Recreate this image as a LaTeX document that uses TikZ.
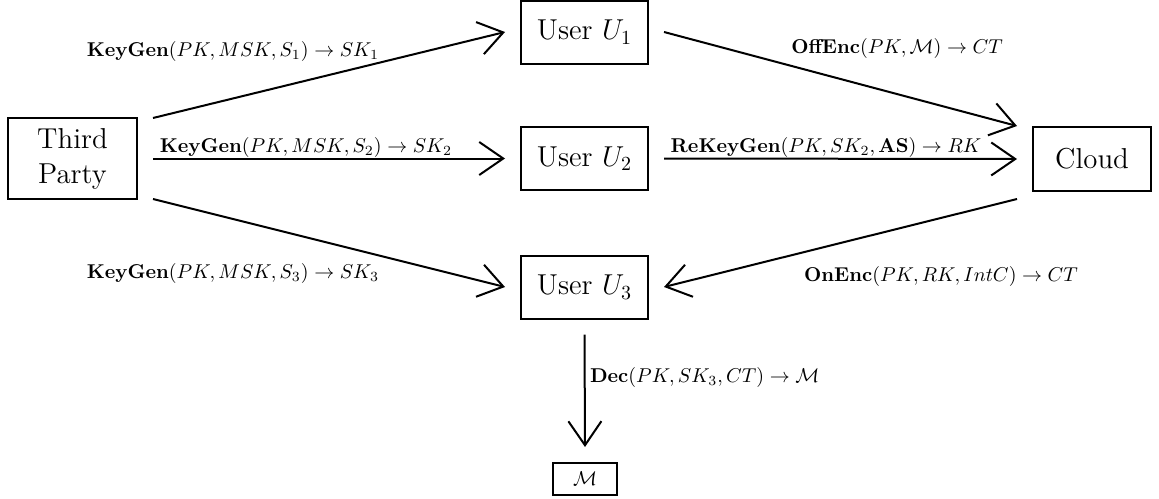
\documentclass[tikz,border=0pt]{standalone}
\usepackage{amsmath}
\usetikzlibrary{arrows.meta}
\begin{document}
\begin{tikzpicture}[x=0.5pt,y=-0.5pt,
  box/.style={draw, line width=1pt, inner sep=0pt, outer sep=0pt, font=\Large, align=center},
  ubox/.style={box, minimum width=63.5pt, minimum height=31.5pt},
  lbl/.style={inner sep=0pt, outer sep=0pt, font=\normalsize},
  arr/.style={line width=1pt, -{Straight Barb[length=12pt,width=16.5pt]}}]
\useasboundingbox (0,0) rectangle (1159,498);
% nodes
\node[box, minimum width=64.5pt, minimum height=40.5pt] (tp) at (72.5,158.5) {Third\\[-0.5pt]Party};
\node[ubox] (u1) at (584.5,32) {User $U_1$};
\node[ubox] (u2) at (584.5,158.5) {User $U_2$};
\node[ubox] (u3) at (584.5,287) {User $U_3$};
\node[box, minimum width=59pt, minimum height=32pt] (cloud) at (1092,159) {Cloud};
\node[box, font=\normalsize, minimum width=32pt, minimum height=16pt] (m) at (585,479) {$\mathcal{M}$};
% connectors
\draw[arr] ([xshift=8pt]tp.north east) -- ([xshift=-8pt]u1.west);
\draw[arr] ([xshift=8pt]tp.east) -- ([xshift=-8pt]u2.west);
\draw[arr] ([xshift=8pt]tp.south east) -- ([xshift=-8pt]u3.west);
\draw[arr] ([xshift=8pt]u1.east) -- ([xshift=-8pt,yshift=0.5pt]cloud.north west);
\draw[arr] ([xshift=8pt]u2.east) -- ([xshift=-8pt]cloud.west);
\draw[arr] ([xshift=-8pt,yshift=-4pt]cloud.south west) -- ([xshift=8pt]u3.east);
\draw[arr] ([yshift=-8pt]u3.south) -- ([yshift=8pt]m.north);
% labels
\node[lbl] (l1) at (233,51) {\textbf{KeyGen}$(PK, MSK, S_1) \rightarrow SK_1$};
\node[lbl] (l2) at (306,147) {\textbf{KeyGen}$(PK, MSK, S_2) \rightarrow SK_2$};
\node[lbl] (l3) at (233,273) {\textbf{KeyGen}$(PK, MSK, S_3) \rightarrow SK_3$};
\node[lbl] (l4) at (897,48) {\textbf{OffEnc}$(PK, \mathcal{M}) \rightarrow CT$};
\node[lbl] (l5) at (826,147) {\textbf{ReKeyGen}$(PK, SK_2, \mathbf{AS}) \rightarrow RK$};
\node[lbl] (l6) at (941,276) {\textbf{OnEnc}$(PK, RK, IntC) \rightarrow CT$};
\node[lbl, anchor=west] (l7) at (590,377) {\textbf{Dec}$(PK, SK_3, CT) \rightarrow \mathcal{M}$};
\end{tikzpicture}
\end{document}
